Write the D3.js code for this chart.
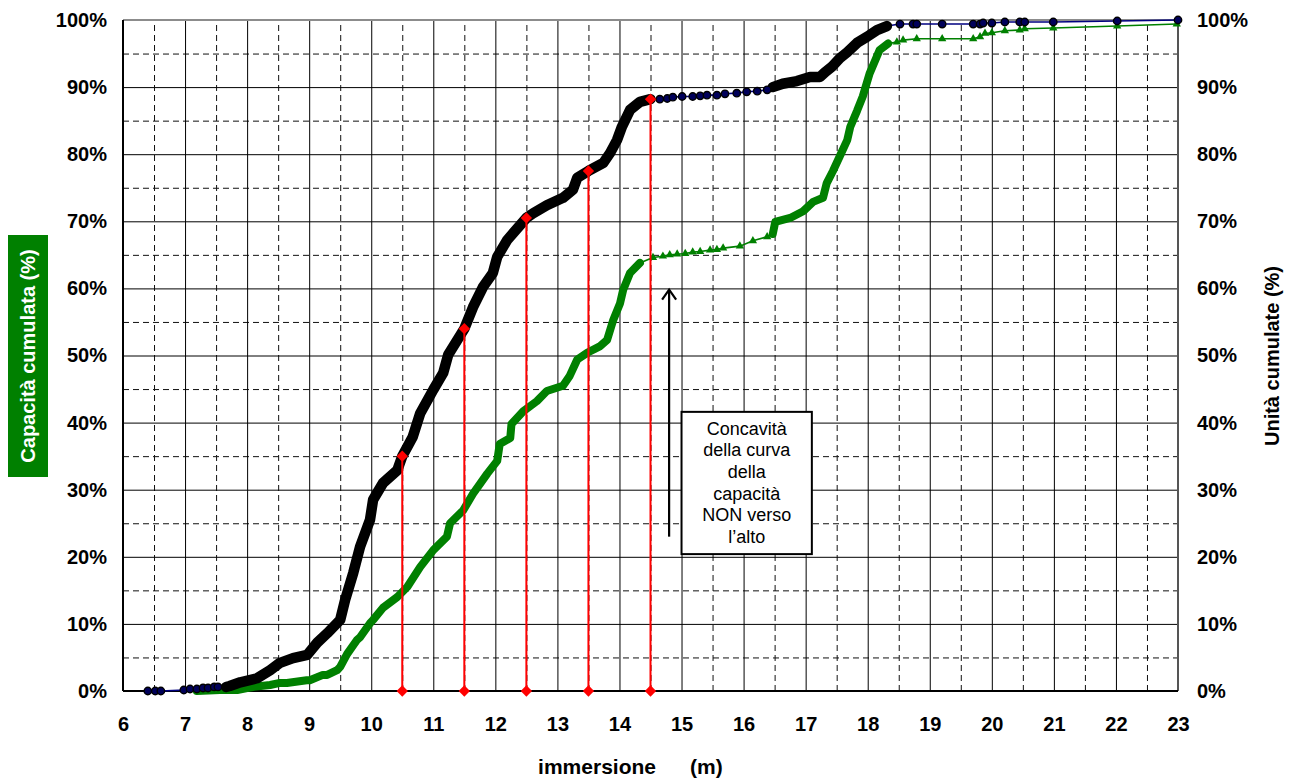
<!DOCTYPE html>
<html>
<head>
<meta charset="utf-8">
<script src="https://cdn.jsdelivr.net/npm/d3@7"></script>
<style>
  body { margin: 0; background: #fff; }
  svg { display: block; font-family: "Liberation Sans", Arial, sans-serif; }
</style>
</head>
<body>
<svg id="chart"></svg>
<script>

// curva nera: unità cumulate (%) vs immersione (m)
const unitCurve = [
  [6.40,0],[6.52,0],[6.61,0],[6.98,0.15],[7.08,0.3],[7.19,0.3],[7.29,0.45],[7.37,0.45],
  [7.47,0.6],[7.53,0.6],[7.66,0.6],[7.72,0.75],[7.89,1.3],[8.16,1.9],[8.37,3.1],[8.53,4.2],
  [8.74,4.9],[8.97,5.4],[9.13,7.2],[9.29,8.6],[9.50,10.6],[9.58,13.6],[9.71,17.6],[9.82,21.5],
  [9.98,25.5],[10.03,28.5],[10.19,31.0],[10.42,32.9],[10.5,35.0],[10.67,37.9],[10.79,41.4],
  [11.0,44.9],[11.16,47.4],[11.24,50.1],[11.5,54.0],[11.64,57.2],[11.80,60.2],[11.96,62.3],
  [12.03,64.7],[12.19,67.2],[12.5,70.5],[12.61,71.2],[12.83,72.4],[13.09,73.5],[13.25,74.7],
  [13.32,76.5],[13.5,77.5],[13.74,78.7],[13.85,80.2],[13.96,82.1],[14.04,84.1],[14.17,86.6],
  [14.33,87.8],[14.5,88.2],[14.65,88.2],[14.77,88.3],[14.86,88.5],[15.01,88.6],[15.18,88.6],
  [15.30,88.7],[15.41,88.8],[15.57,88.8],[15.70,89.0],[15.89,89.1],[16.05,89.3],[16.22,89.4],
  [16.38,89.6],[16.47,90.0],[16.63,90.5],[16.86,90.9],[17.07,91.5],[17.23,91.5],[17.31,92.2],
  [17.42,93.0],[17.55,94.3],[17.67,95.2],[17.83,96.6],[17.99,97.5],[18.15,98.5],[18.31,99.1],
  [18.52,99.4],[18.73,99.4],[18.79,99.4],[19.20,99.4],[19.70,99.4],[19.81,99.4],[19.86,99.55],
  [20.00,99.55],[20.21,99.7],[20.45,99.7],[20.53,99.7],[20.99,99.7],[22.02,99.85],[23.0,100]
]

// curva verde: capacità cumulata (%)
const capCurve = [
  [7.19,0],[7.56,0.15],[7.84,0.15],[8.00,0.45],[8.09,0.6],[8.37,0.9],[8.53,1.2],[8.64,1.2],
  [8.96,1.6],[9.01,1.6],[9.22,2.4],[9.29,2.4],[9.45,3.1],[9.50,3.6],[9.61,5.5],[9.77,7.6],
  [9.82,8.0],[9.98,10.1],[10.03,10.6],[10.19,12.4],[10.42,14.0],[10.58,15.5],[10.79,18.5],
  [11.0,21.0],[11.22,23.0],[11.27,25.0],[11.48,26.9],[11.64,29.4],[11.87,32.4],[12.03,34.3],
  [12.07,36.8],[12.24,37.7],[12.26,39.8],[12.45,41.7],[12.67,43.2],[12.83,44.7],[13.09,45.5],
  [13.20,47.0],[13.32,49.4],[13.48,50.4],[13.69,51.4],[13.80,52.3],[13.90,55.3],[14.01,57.8],
  [14.06,59.8],[14.17,62.3],[14.33,63.8],[14.54,64.6],[14.70,64.8],[14.81,65.0],[14.93,65.1],
  [15.06,65.2],[15.18,65.4],[15.30,65.5],[15.46,65.7],[15.57,65.8],[15.67,66.0],[15.94,66.3],
  [16.15,67.1],[16.38,67.7],[16.47,68.1],[16.51,69.9],[16.75,70.5],[16.96,71.5],[17.12,72.9],
  [17.28,73.5],[17.34,75.7],[17.44,77.5],[17.55,79.7],[17.67,82.1],[17.72,84.1],[17.83,86.5],
  [17.92,88.6],[18.03,92.0],[18.19,95.5],[18.33,96.5],[18.47,96.7],[18.57,97.0],[18.79,97.2],
  [19.20,97.2],[19.70,97.2],[19.81,97.5],[19.89,98.0],[20.00,98.1],[20.21,98.4],[20.45,98.5],
  [20.53,98.7],[20.99,98.8],[22.02,99.1],[22.98,99.4]
]

// tratti dove i marcatori si sovrappongono
const unitDense = [[7.6,14.5],[16.45,18.35]]
const capDense = [[7.19,14.5],[16.45,18.35]]

// letture sulla curva nera
const readX = [10.5, 11.5, 12.5, 13.5, 14.5]
const readY = [35.0, 54.0, 70.5, 77.5, 88.2]

const xTicks = d3.range(6, 24, 1)
const yTicks = d3.range(0, 101, 10)
const noteLines = ["Concavità", "della curva", "della", "capacità", "NON verso", "l\u2019alto"]

const W = 1299, H = 778
const margin = {top: 20, right: 121, bottom: 87, left: 123}
const plotW = W - margin.left - margin.right
const plotH = H - margin.top - margin.bottom

const svg = d3.select('#chart').attr('width', W).attr('height', H)
const g = svg.append('g').attr('transform', `translate(${margin.left},${margin.top})`)

const x = d3.scaleLinear().domain([6, 23]).range([0, plotW])
const y = d3.scaleLinear().domain([0, 100]).range([plotH, 0])

// griglia secondaria tratteggiata
g.append('g').attr('class', 'grid minor')
  .call(d3.axisBottom(x).tickValues(d3.range(6.5, 23, 1)).tickSize(-plotH).tickFormat(''))
  .attr('transform', `translate(0,${plotH})`)
g.append('g').attr('class', 'grid minor')
  .call(d3.axisLeft(y).tickValues(d3.range(5, 100, 10)).tickSize(-plotW).tickFormat(''))
g.selectAll('.grid.minor line').attr('stroke', '#111').attr('stroke-dasharray', '6,4')

// griglia principale
g.append('g').attr('class', 'grid major')
  .call(d3.axisBottom(x).tickValues(xTicks).tickSize(-plotH).tickFormat(''))
  .attr('transform', `translate(0,${plotH})`)
g.append('g').attr('class', 'grid major')
  .call(d3.axisLeft(y).tickValues(yTicks).tickSize(-plotW).tickFormat(''))
g.selectAll('.grid.major line').attr('stroke', '#000').attr('stroke-width', 1)
g.selectAll('.grid .domain').remove()

// cornice
g.append('line').attr('x1', 0).attr('x2', plotW).attr('y1', 0).attr('y2', 0)
  .attr('stroke', '#8c8c8c').attr('stroke-width', 2)
g.append('line').attr('x1', plotW).attr('x2', plotW).attr('y1', 0).attr('y2', plotH)
  .attr('stroke', '#555').attr('stroke-width', 2)
g.append('line').attr('x1', 0).attr('x2', 0).attr('y1', 0).attr('y2', plotH)
  .attr('stroke', '#000').attr('stroke-width', 2)
g.append('line').attr('x1', 0).attr('x2', plotW).attr('y1', plotH).attr('y2', plotH)
  .attr('stroke', '#000').attr('stroke-width', 2)

// etichette assi
const xAxis = g.append('g').attr('transform', `translate(0,${plotH})`)
  .call(d3.axisBottom(x).tickValues(xTicks).tickSize(0).tickPadding(26).tickFormat(d3.format('d')))
const yLeft = g.append('g')
  .call(d3.axisLeft(y).tickValues(yTicks).tickSize(0).tickPadding(16).tickFormat(d => d + '%'))
const yRight = g.append('g').attr('transform', `translate(${plotW},0)`)
  .call(d3.axisRight(y).tickValues(yTicks).tickSize(0).tickPadding(19).tickFormat(d => d + '%'))
;[xAxis, yLeft, yRight].forEach(a => {
  a.select('.domain').remove()
  a.selectAll('text').attr('font-size', '20px').attr('font-weight', 'bold')
    .attr('fill', '#000').attr('font-family', '"Liberation Sans", Arial, sans-serif')
})

const line = d3.line().x(d => x(d[0])).y(d => y(d[1]))
const inDense = (d, dense) => dense.some(r => d[0] >= r[0] && d[0] <= r[1])

function drawSeries(pts, dense, color, bandColor, bandW) {
  g.append('path').datum(pts).attr('d', line)
    .attr('fill', 'none').attr('stroke', color).attr('stroke-width', 1.6)
  dense.forEach(r => {
    g.append('path').datum(pts.filter(d => d[0] >= r[0] && d[0] <= r[1])).attr('d', line)
      .attr('fill', 'none').attr('stroke', bandColor).attr('stroke-width', bandW)
      .attr('stroke-linejoin', 'round').attr('stroke-linecap', 'round')
  })
}

drawSeries(capCurve, capDense, '#008000', '#008000', 8)
g.append('g').selectAll('path').data(capCurve.filter(d => !inDense(d, capDense))).join('path')
  .attr('d', d3.symbol(d3.symbolTriangle, 30))
  .attr('transform', d => `translate(${x(d[0])},${y(d[1])})`)
  .attr('fill', '#008000')

drawSeries(unitCurve, unitDense, '#000080', '#000', 10.5)
g.append('g').selectAll('circle').data(unitCurve.filter(d => !inDense(d, unitDense))).join('circle')
  .attr('cx', d => x(d[0])).attr('cy', d => y(d[1])).attr('r', 3.7)
  .attr('fill', '#00005a').attr('stroke', '#000').attr('stroke-width', 1.4)

// linee di lettura rosse
const reads = readX.map((v, i) => [v, readY[i]])
g.append('g').selectAll('line').data(reads).join('line')
  .attr('x1', d => x(d[0])).attr('x2', d => x(d[0]))
  .attr('y1', d => y(d[1])).attr('y2', y(0))
  .attr('stroke', '#ff0000').attr('stroke-width', 2)
const diamond = d3.symbol(d3.symbolSquare, 64)
g.append('g').selectAll('path').data(reads.concat(readX.map(v => [v, 0]))).join('path')
  .attr('d', diamond)
  .attr('transform', d => `translate(${x(d[0])},${y(d[1])}) rotate(45)`)
  .attr('fill', '#ff0000')

// freccia e riquadro
const arrowX = 14.8, arrowFrom = 23, arrowTo = 59.8
g.append('line').attr('x1', x(arrowX)).attr('x2', x(arrowX))
  .attr('y1', y(arrowFrom)).attr('y2', y(arrowTo))
  .attr('stroke', '#000').attr('stroke-width', 2.2)
g.append('path')
  .attr('d', `M${x(arrowX) - 7},${y(arrowTo) + 10}L${x(arrowX)},${y(arrowTo)}L${x(arrowX) + 7},${y(arrowTo) + 10}`)
  .attr('fill', 'none').attr('stroke', '#000').attr('stroke-width', 2.2)

const box = {x0: 15.0, x1: 17.1, top: 41.6, bottom: 20.4}
g.append('rect').attr('x', x(box.x0)).attr('y', y(box.top))
  .attr('width', x(box.x1) - x(box.x0)).attr('height', y(box.bottom) - y(box.top))
  .attr('fill', '#fff').attr('stroke', '#000').attr('stroke-width', 2)
g.append('text').attr('text-anchor', 'middle').attr('font-size', '18px').attr('fill', '#000')
  .selectAll('tspan').data(noteLines).join('tspan')
  .attr('x', (x(box.x0) + x(box.x1)) / 2)
  .attr('y', (d, i) => y(box.top) + 23 + i * 21.6)
  .text(d => d)

// titoli
svg.append('text').attr('x', 656).attr('y', 774).attr('text-anchor', 'end')
  .attr('font-size', '21px').attr('font-weight', 'bold').text('immersione')
svg.append('text').attr('x', 690).attr('y', 774).attr('text-anchor', 'start')
  .attr('font-size', '21px').attr('font-weight', 'bold').text('(m)')

svg.append('rect').attr('x', 8).attr('y', 235).attr('width', 40).attr('height', 242).attr('fill', '#008000')
svg.append('text').attr('transform', 'translate(35,356) rotate(-90)').attr('text-anchor', 'middle')
  .attr('font-size', '20px').attr('font-weight', 'bold').attr('fill', '#fff').text('Capacità cumulata (%)')
svg.append('text').attr('transform', 'translate(1279,356) rotate(-90)').attr('text-anchor', 'middle')
  .attr('font-size', '20px').attr('font-weight', 'bold').attr('fill', '#000').text('Unità cumulate (%)')

</script>
</body>
</html>
